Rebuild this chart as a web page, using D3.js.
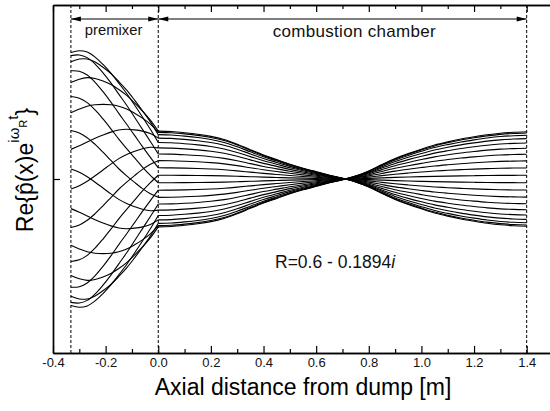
<!DOCTYPE html>
<html>
<head>
<meta charset="utf-8">
<script src="https://cdn.jsdelivr.net/npm/d3@7"></script>
<style>
  html, body { margin: 0; padding: 0; background: #fff; }
  svg { display: block; font-family: "Liberation Sans", Arial, sans-serif; }
</style>
</head>
<body>
<svg id="chart" width="550" height="411"></svg>
<script>
// Premixer: axial stations (m), pressure amplitude |p̂| and phase arg p̂ (deg)
const premixerX     = [-0.332, -0.30, -0.27, -0.24, -0.21, -0.18, -0.15, -0.12, -0.09, -0.06, -0.03, 0.0];
const premixerAmp   = [0.992, 1.004, 0.992, 0.953, 0.898, 0.836, 0.766, 0.695, 0.617, 0.539, 0.461, 0.375];
const premixerPhase = [-45, -43.5, -41.5, -39, -36, -32.5, -28.5, -24.5, -20, -14.5, -8, 0];

// Combustion chamber: axial stations (m) and the (real) pressure mode shape
const chamberX = [0.00, 0.05, 0.10, 0.15, 0.20, 0.25, 0.30, 0.35, 0.40, 0.45,
                  0.50, 0.55, 0.60, 0.65, 0.70, 0.75, 0.80, 0.85, 0.90, 0.95,
                  1.00, 1.05, 1.10, 1.15, 1.20, 1.25, 1.30, 1.35, 1.40];
const chamberAmp = [0.375, 0.372, 0.363, 0.351, 0.334, 0.309, 0.273, 0.230, 0.188, 0.152,
                    0.116, 0.085, 0.057, 0.030, 0.005, -0.023, -0.063, -0.113, -0.160, -0.199,
                    -0.234, -0.266, -0.291, -0.313, -0.331, -0.347, -0.359, -0.366, -0.370];

// Instants of the cycle, omega_R * t (deg), at which Re{p̂ e^{iωt}} is drawn
const cyclePhases = [4.5, 22.5, 40.5, 58.5, 76.5, 94.5, 112.5, 130.5, 148.5, 166.5,
                     184.5, 202.5, 220.5, 238.5, 256.5, 274.5, 292.5, 310.5, 328.5, 346.5];

// Geometry: section boundaries (m)
const sectionNames  = ["premixer", "combustion chamber"];
const sectionStarts = [-0.332, 0.0];
const sectionEnds   = [0.0, 1.4];

// Axis ticks
const majorTicks = [-0.4, -0.2, 0.0, 0.2, 0.4, 0.6, 0.8, 1.0, 1.2, 1.4];
const minorTicks = [-0.3, -0.1, 0.1, 0.3, 0.5, 0.7, 0.9, 1.1, 1.3, 1.5];
const modeLabel = "R=0.6 - 0.1894";

const svg = d3.select("#chart");
const padL = 53, padT = 5, plotW = 500, plotH = 348;

const x = d3.scaleLinear().domain([-0.4, 1.5]).range([padL, padL + plotW]);
const y = d3.scaleLinear().domain([-1.36, 1.36]).range([padT + plotH, padT]);

const rad = Math.PI / 180;
const line = d3.line()
  .x(d => x(d[0]))
  .y(d => y(d[1]))
  .curve(d3.curveCatmullRom.alpha(0.5));

// Mode-shape snapshots
const curves = svg.append("g").attr("fill", "none").attr("stroke", "#000").attr("stroke-width", 1.1);
cyclePhases.forEach(phi => {
  const pre = premixerX.map((xv, i) => [xv, premixerAmp[i] * Math.cos((phi + premixerPhase[i]) * rad)]);
  const cc  = chamberX.map((xv, i) => [xv, chamberAmp[i] * Math.cos(phi * rad)]);
  curves.append("path").attr("d", line(pre));
  curves.append("path").attr("d", line(cc));
});

// Section boundaries
const bounds = [sectionStarts[0], sectionEnds[0], sectionEnds[1]];
svg.append("g").selectAll("line").data(bounds).join("line")
  .attr("x1", d => x(d)).attr("x2", d => x(d))
  .attr("y1", padT).attr("y2", padT + plotH)
  .attr("stroke", "#000").attr("stroke-width", 1)
  .attr("stroke-dasharray", "3,2");

// Section arrows and names
const arrowY = 19;
const arrows = svg.append("g");
sectionNames.forEach((name, i) => {
  const x0 = x(sectionStarts[i]), x1 = x(sectionEnds[i]);
  arrows.append("line")
    .attr("x1", x0).attr("x2", x1).attr("y1", arrowY).attr("y2", arrowY)
    .attr("stroke", "#000").attr("stroke-width", 1);
  arrows.append("path")
    .attr("d", `M${x0},${arrowY}L${x0 + 10},${arrowY - 2.5}L${x0 + 10},${arrowY + 2.5}Z`)
    .attr("fill", "#000");
  arrows.append("path")
    .attr("d", `M${x1},${arrowY}L${x1 - 10},${arrowY - 2.5}L${x1 - 10},${arrowY + 2.5}Z`)
    .attr("fill", "#000");
});
svg.append("text")
  .attr("x", (x(sectionStarts[0]) + x(sectionEnds[0])) / 2 - 1)
  .attr("y", 35)
  .attr("text-anchor", "middle")
  .attr("font-size", 14.8)
  .attr("fill", "#111")
  .text(sectionNames[0]);
svg.append("text")
  .attr("x", x(0.745))
  .attr("y", 37)
  .attr("text-anchor", "middle")
  .attr("font-size", 17)
  .attr("letter-spacing", 0.3)
  .attr("fill", "#111")
  .text(sectionNames[1]);

// Axes
const fmt = d => d.toFixed(1);
const axisG = svg.append("g");

const bottomAxis = axisG.append("g")
  .attr("transform", `translate(0,${padT + plotH})`)
  .call(d3.axisBottom(x).tickValues(majorTicks).tickFormat(fmt)
        .tickSizeInner(-7).tickSizeOuter(0).tickPadding(5));
bottomAxis.selectAll("text")
  .attr("font-size", 13)
  .attr("font-family", "Liberation Sans, Arial, sans-serif")
  .attr("fill", "#111");

axisG.append("g")
  .attr("transform", `translate(0,${padT + plotH})`)
  .call(d3.axisBottom(x).tickValues(minorTicks).tickFormat("")
        .tickSizeInner(-4).tickSizeOuter(0));

axisG.append("g")
  .attr("transform", `translate(0,${padT})`)
  .call(d3.axisTop(x).tickValues(majorTicks).tickFormat("")
        .tickSizeInner(-7).tickSizeOuter(0));
axisG.append("g")
  .attr("transform", `translate(0,${padT})`)
  .call(d3.axisTop(x).tickValues(minorTicks).tickFormat("")
        .tickSizeInner(-4).tickSizeOuter(0));

axisG.append("g")
  .attr("transform", `translate(${padL},0)`)
  .call(d3.axisLeft(y).tickValues([0]).tickFormat("")
        .tickSizeInner(-7).tickSizeOuter(0));

axisG.selectAll(".domain").attr("stroke", "#000").attr("stroke-width", 1.7);
axisG.selectAll(".tick line").attr("stroke", "#000").attr("stroke-width", 1.2);

// Axis titles
svg.append("text")
  .attr("x", x(0.55))
  .attr("y", 395)
  .attr("text-anchor", "middle")
  .attr("font-size", 23)
  .attr("fill", "#000")
  .text("Axial distance from dump [m]");

const yTitle = svg.append("text")
  .attr("transform", "translate(33,170) rotate(-90)")
  .attr("text-anchor", "middle")
  .attr("font-size", 23)
  .attr("fill", "#000");
yTitle.append("tspan").text("Re{p\u0302(x)e");
yTitle.append("tspan").attr("font-size", 15).attr("dy", -14).text("i\u03c9");
yTitle.append("tspan").attr("font-size", 11).attr("dy", 8).text("R");
yTitle.append("tspan").attr("font-size", 15).attr("dy", -9).text("t");
yTitle.append("tspan").attr("dy", 15).text("}");

// Mode label
const rl = svg.append("text")
  .attr("x", 275).attr("y", 268)
  .attr("font-size", 17.5)
  .attr("fill", "#111");
rl.append("tspan").text(modeLabel);
rl.append("tspan").attr("font-style", "italic").text("i");
</script>
</body>
</html>
